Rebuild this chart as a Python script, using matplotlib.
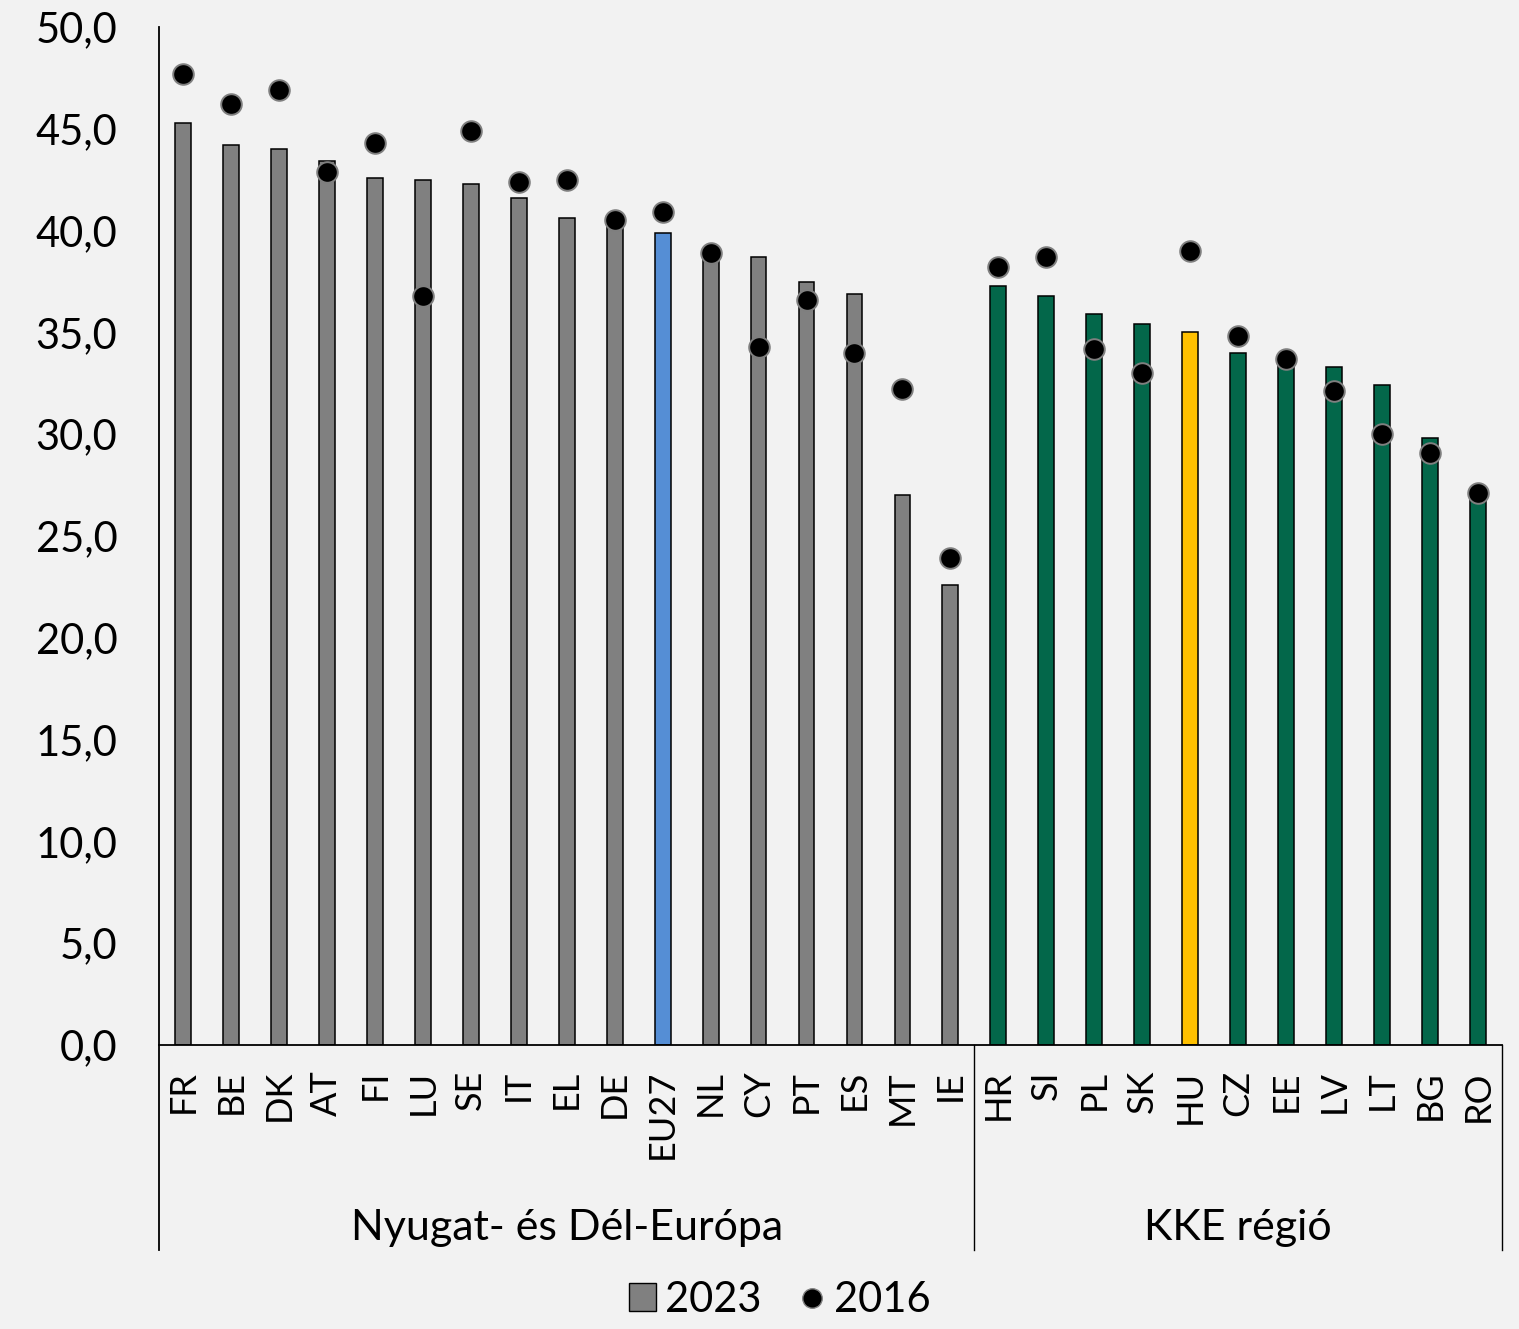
import matplotlib as mpl
import matplotlib.pyplot as plt
import matplotlib.transforms as mtransforms
from matplotlib.lines import Line2D
from matplotlib.patches import Patch
import numpy as np

countries = ["FR", "BE", "DK", "AT", "FI", "LU", "SE", "IT", "EL", "DE", "EU27",
             "NL", "CY", "PT", "ES", "MT", "IE",
             "HR", "SI", "PL", "SK", "HU", "CZ", "EE", "LV", "LT", "BG", "RO"]
values_2023 = [45.3, 44.2, 44.0, 43.4, 42.6, 42.5, 42.3, 41.6, 40.6, 40.3, 39.9,
               38.7, 38.7, 37.5, 36.9, 27.0, 22.6,
               37.3, 36.8, 35.9, 35.4, 35.0, 34.0, 33.5, 33.3, 32.4, 29.8, 26.9]
values_2016 = [47.7, 46.2, 46.9, 42.9, 44.3, 36.8, 44.9, 42.4, 42.5, 40.5, 40.9,
               38.9, 34.3, 36.6, 34.0, 32.2, 23.9,
               38.2, 38.7, 34.2, 33.0, 39.0, 34.8, 33.7, 32.1, 30.0, 29.1, 27.1]
groups = ["Nyugat- és Dél-Európa", "KKE régió"]
group_sizes = [17, 11]
series_labels = ["2023", "2016"]

BG = "#F2F2F2"
COLOR_WEST = "#808080"
COLOR_EAST = "#03674A"
COLOR_EU = "#558ED5"
COLOR_HU = "#FFC000"

plt.rcParams["font.family"] = ["Lato", "DejaVu Sans"]

fig = plt.figure(figsize=(15.19, 13.29), dpi=100, facecolor=BG)
ax = fig.add_axes([159 / 1519, 1 - 1045 / 1329, (1502 - 159) / 1519, (1045 - 27) / 1329])
ax.set_facecolor(BG)

x = np.arange(len(countries))
colors = []
for i, c in enumerate(countries):
    if c == "EU27":
        colors.append(COLOR_EU)
    elif c == "HU":
        colors.append(COLOR_HU)
    elif i < group_sizes[0]:
        colors.append(COLOR_WEST)
    else:
        colors.append(COLOR_EAST)

ax.bar(x, values_2023, width=0.33, color=colors, edgecolor="black", linewidth=1.1, zorder=2)
ax.scatter(x, values_2016, s=220, color="black", edgecolor="#7F7F7F", linewidth=1.4, zorder=3)

ax.set_xlim(-0.5, len(countries) - 0.5)
ax.set_ylim(0, 50)
ax.set_yticks(np.arange(0, 50.1, 5))
ax.set_yticklabels([f"{v:.1f}".replace(".", ",") for v in np.arange(0, 50.1, 5)])
ax.set_xticks(x)
ax.set_xticklabels(countries, rotation=90, va="top", ha="center")
ax.tick_params(axis="y", length=0, pad=30, labelsize=30)
ax.tick_params(axis="x", length=0, pad=18, labelsize=26)

for side in ["top", "right", "left", "bottom"]:
    ax.spines[side].set_visible(False)

# axis frame and group separators extending under the labels
trans = mtransforms.blended_transform_factory(ax.transData, ax.transAxes)
low = -(1250 - 1045) / (1045 - 27)
ax.plot([-0.5, len(countries) - 0.5], [0, 0], color="black", lw=1.3, transform=trans, clip_on=False, zorder=4)
ax.plot([-0.5, -0.5], [low, 1.0], color="black", lw=1.3, transform=trans, clip_on=False)
edges = np.cumsum([0] + group_sizes) - 0.5
for e in edges[1:]:
    ax.plot([e, e], [low, 0], color="black", lw=1.0, transform=trans, clip_on=False)
for k, name in enumerate(groups):
    mid = (edges[k] + edges[k + 1]) / 2
    ax.text(mid, (1045 - 1228) / (1045 - 27), name, transform=trans, ha="center", va="center", fontsize=31)

handles = [
    Patch(facecolor=COLOR_WEST, edgecolor="black", linewidth=1.0, label=series_labels[0]),
    Line2D([0], [0], marker="o", linestyle="none", markersize=14, markerfacecolor="black",
           markeredgecolor="#7F7F7F", label=series_labels[1]),
]
fig.legend(handles=handles, loc="center", bbox_to_anchor=(780 / 1519, 1 - 1300 / 1329), ncol=2,
           frameon=False, fontsize=30, handlelength=0.65, handleheight=0.65, handletextpad=0.2,
           columnspacing=0.9)

fig.savefig("out.png", dpi=100, facecolor=BG)
